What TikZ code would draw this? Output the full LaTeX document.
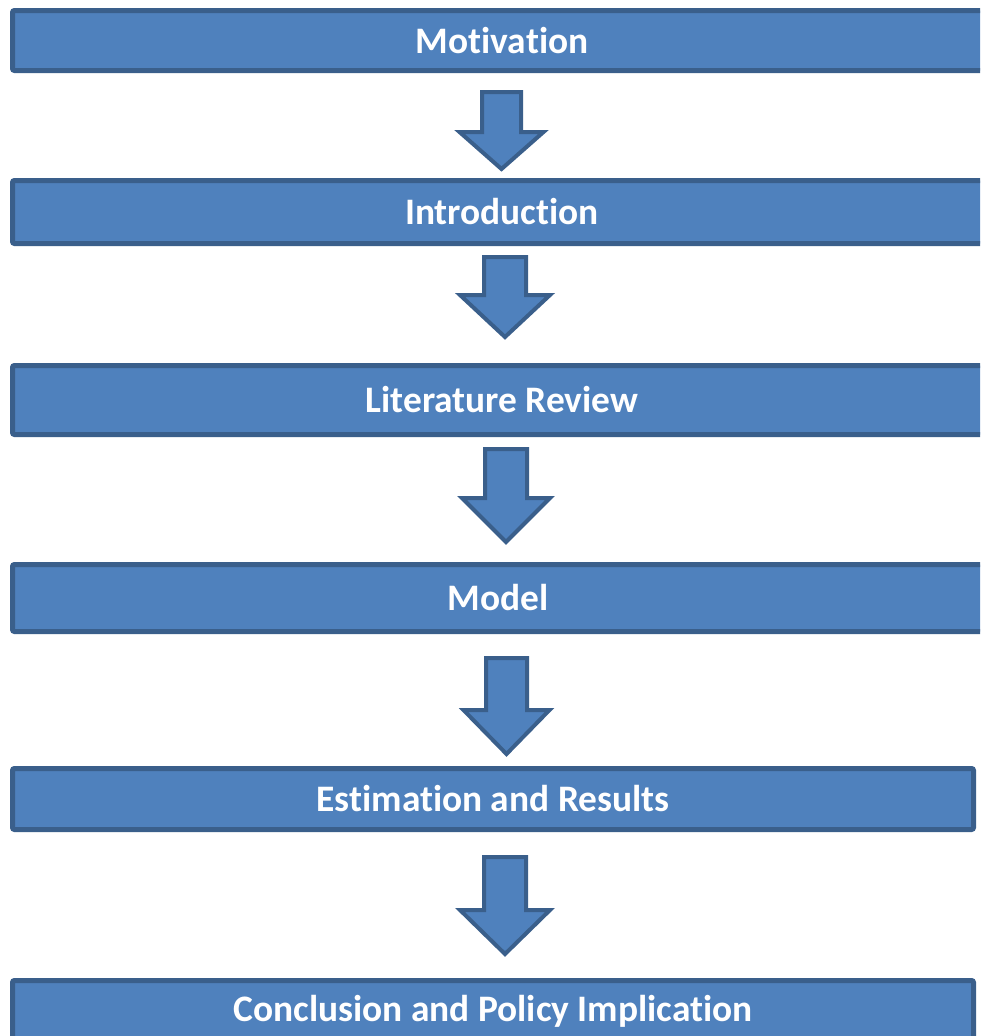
\documentclass[tikz,border=0pt]{standalone}
\usepackage{fontspec}
\setmainfont{Carlito}[Ligatures=NoCommon]
\tikzset{
  x=1pt, y=-1pt,
  stagebox/.style={draw=boxline, fill=boxfill, line width=5pt, rounded corners=2pt,
    inner sep=0pt, text=white, font=\fontsize{37.4}{40}\selectfont\bfseries},
  blockarrow/.style={draw=boxline, fill=boxfill, line width=4pt, line join=miter},
}
\definecolor{boxfill}{HTML}{4F81BD}
\definecolor{boxline}{HTML}{3A5F8B}
% #1 centre x, #2 top, #3 y of head, #4 tip y, #5 half shaft, #6 half head
\newcommand{\blockarr}[6]{%
  \draw[blockarrow] ({#1-#5},{#2}) -- ({#1+#5},{#2}) -- ({#1+#5},{#3}) -- ({#1+#6},{#3})
    -- ({#1},{#4}) -- ({#1-#6},{#3}) -- ({#1-#5},{#3}) -- cycle;}
\begin{document}
\begin{tikzpicture}
\useasboundingbox (0,0) rectangle (980,1036);
\clip (0,0) rectangle (980,1036);
\node[stagebox, minimum width=979pt, minimum height=60pt] (b1) at (502,40.5) {\raisebox{-1pt}{Motivation}};
\node[stagebox, minimum width=979pt, minimum height=63pt] (b2) at (502,212) {\raisebox{-1pt}{Introduction}};
\node[stagebox, minimum width=979pt, minimum height=69pt] (b3) at (502,400) {\raisebox{-1pt}{Literature Review}};
\node[stagebox, minimum width=971pt, minimum height=67pt] (b4) at (498,598) {\raisebox{-1pt}{Model}};
\node[stagebox, minimum width=961pt, minimum height=61pt] (b5) at (493,799) {\raisebox{-1pt}{Estimation and Results}};
\node[stagebox, minimum width=961pt, minimum height=61pt] (b6) at (493,1011) {\raisebox{-2pt}{Conclusion and Policy Implication}};
\blockarr{501.5}{92}{132}{169}{19.5}{42}
\blockarr{505}{257}{295}{337}{21}{45}
\blockarr{506}{449}{498}{542}{21}{44}
\blockarr{506.5}{658}{710}{754}{20.5}{43}
\blockarr{505}{857}{910}{954}{21}{45}
\end{tikzpicture}
\end{document}
